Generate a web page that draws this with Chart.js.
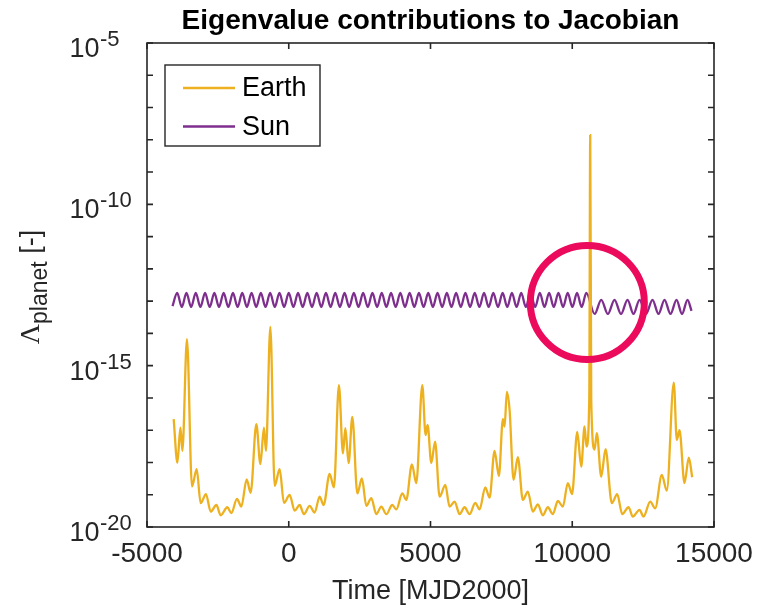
<!DOCTYPE html>
<html>
<head>
<meta charset="utf-8">
<title>Eigenvalue contributions to Jacobian</title>
<script src="https://cdn.jsdelivr.net/npm/chart.js@4.4.1/dist/chart.umd.min.js"></script>
<style>
  html, body { margin: 0; padding: 0; background: #ffffff; }
  #wrap { width: 764px; height: 609px; }
</style>
</head>
<body>
<div id="wrap"><canvas id="eigChart" width="764" height="609"></canvas></div>
<script>
// ===== DATA =====
const earthDays = [
  -4059, -3928, -3822, -3752, -3590, -3413, -3248, -3107, -2920, -2754,
  -2553, -2401, -2165, -2024, -1827, -1671, -1485, -1344, -1143, -1001,
  -875, -804, -649, -497, -321, -169, 32, 208, 384, 536,
  737, 913, 1089, 1230, 1442, 1594, 1770, 1911, 1996, 2112,
  2242, 2419, 2581, 2736, 2912, 3089, 3265, 3441, 3653, 3794,
  4005, 4146, 4344, 4499, 4711, 4827, 4897, 5028, 5162, 5321,
  5522, 5673, 5850, 6026, 6202, 6378, 6579, 6731, 6932, 7084,
  7260, 7412, 7553, 7613, 7694, 7789, 7930, 8081, 8258, 8434,
  8610, 8787, 8963, 9139, 9316, 9492, 9668, 9844, 9993, 10176,
  10317, 10433, 10504, 10600, 10634, 10670, 10786, 10867, 11022, 11174,
  11396, 11586, 11763, 11985, 12136, 12373, 12514, 12750, 12926, 13159,
  13335, 13582, 13688, 13783, 13959, 14111, 14231
];
const earthLambda = [
  2.2e-17, 9.8e-19, 1.2e-17, 2.3e-18, 6.6e-15, 1.8e-19, 6.2e-19, 5.5e-20, 1.05e-19, 3.0e-20,
  4.8e-20, 2.3e-20, 4.1e-20, 2.7e-20, 7.4e-20, 4.3e-20, 3.0e-19, 1.15e-19, 1.55e-17, 8.9e-19,
  1.2e-17, 2.3e-18, 1.6e-14, 1.9e-19, 6.2e-19, 5.6e-20, 9.8e-20, 3.2e-20, 4.8e-20, 2.5e-20,
  4.5e-20, 2.8e-20, 8.7e-20, 4.8e-20, 4.4e-19, 1.7e-19, 2.5e-16, 1.9e-18, 1.15e-17, 9.5e-19,
  2.6e-17, 1.1e-19, 3.2e-19, 4.5e-20, 7.8e-20, 2.5e-20, 4.3e-20, 2.5e-20, 4.8e-20, 3.5e-20,
  1.1e-19, 6.9e-20, 8.7e-19, 2.3e-19, 2.5e-16, 7.1e-18, 1.45e-17, 9.6e-19, 4.4e-18, 8.7e-20,
  2.0e-19, 4.3e-20, 6.1e-20, 2.5e-20, 4.1e-20, 2.5e-20, 5.6e-20, 3.5e-20, 1.7e-19, 8.1e-20,
  2.3e-18, 3.8e-19, 2.2e-17, 1.3e-17, 1.55e-16, 4.3e-17, 2.9e-19, 1.45e-18, 6.9e-20, 1.25e-19,
  3.0e-20, 5.0e-20, 2.3e-20, 4.1e-20, 2.5e-20, 6.4e-20, 4.3e-20, 2.3e-19, 1.05e-19, 8.9e-18,
  7.4e-19, 1.3e-17, 3.1e-18, 8.7e-17, 1.4e-8, 8.7e-17, 2.5e-18, 8.1e-18, 3.6e-19, 2.6e-18,
  5.5e-20, 1.05e-19, 2.5e-20, 4.1e-20, 2.1e-20, 3.4e-20, 2.1e-20, 6.1e-20, 3.8e-20, 4.1e-19,
  1.35e-19, 3.0e-16, 5.0e-18, 1.0e-17, 2.3e-19, 1.4e-18, 3.5e-19
];

const sunDays = [
  -4100, -3936, -3772, -3608, -3444, -3280, -3116, -2952, -2788, -2624,
  -2460, -2296, -2132, -1968, -1804, -1640, -1476, -1312, -1148, -984,
  -820, -656, -492, -328, -164, 0, 164, 328, 492, 656,
  820, 984, 1148, 1312, 1476, 1640, 1804, 1968, 2132, 2296,
  2460, 2624, 2788, 2952, 3116, 3280, 3444, 3608, 3772, 3936,
  4100, 4264, 4428, 4592, 4756, 4920, 5084, 5248, 5412, 5576,
  5740, 5904, 6068, 6232, 6396, 6560, 6724, 6888, 7052, 7216,
  7380, 7544, 7708, 7872, 8036, 8200, 8364, 8528, 8692, 8856,
  9020, 9184, 9348, 9512, 9676, 9840, 10004, 10168, 10332, 10496,
  10790, 11022, 11256, 11491, 11720, 11950, 12160, 12373, 12600, 12831,
  13043, 13255, 13466, 13678, 13872, 14066, 14207
];
const sunLambda = [
  7.0e-14, 1.8e-13, 6.6e-14, 1.8e-13, 6.6e-14, 1.8e-13, 6.6e-14, 1.8e-13, 6.6e-14, 1.8e-13,
  6.6e-14, 1.8e-13, 6.6e-14, 1.8e-13, 6.6e-14, 1.8e-13, 6.6e-14, 1.8e-13, 6.6e-14, 1.8e-13,
  6.6e-14, 1.8e-13, 6.6e-14, 1.8e-13, 6.6e-14, 1.8e-13, 6.6e-14, 1.8e-13, 6.6e-14, 1.8e-13,
  6.6e-14, 1.8e-13, 6.6e-14, 1.8e-13, 6.6e-14, 1.8e-13, 6.6e-14, 1.8e-13, 6.6e-14, 1.8e-13,
  6.6e-14, 1.8e-13, 6.6e-14, 1.8e-13, 6.6e-14, 1.8e-13, 6.6e-14, 1.8e-13, 6.6e-14, 1.8e-13,
  6.6e-14, 1.8e-13, 6.6e-14, 1.8e-13, 6.6e-14, 1.8e-13, 6.6e-14, 1.8e-13, 6.6e-14, 1.8e-13,
  6.6e-14, 1.8e-13, 6.6e-14, 1.8e-13, 6.6e-14, 1.8e-13, 6.6e-14, 1.8e-13, 6.6e-14, 1.8e-13,
  6.6e-14, 1.8e-13, 6.6e-14, 1.8e-13, 6.6e-14, 1.8e-13, 6.6e-14, 1.8e-13, 6.6e-14, 1.8e-13,
  6.6e-14, 1.8e-13, 6.6e-14, 1.8e-13, 6.6e-14, 1.8e-13, 6.6e-14, 1.8e-13, 6.6e-14, 1.8e-13,
  4.0e-14, 1.1e-13, 4.0e-14, 1.1e-13, 4.0e-14, 1.1e-13, 4.0e-14, 1.1e-13, 4.0e-14, 1.1e-13,
  4.0e-14, 1.1e-13, 4.0e-14, 1.1e-13, 4.0e-14, 1.1e-13, 5.0e-14
];

const seriesNames = ['Earth', 'Sun'];
const xTickValues = [-5000, 0, 5000, 10000, 15000];
const yTickExponents = [-20, -15, -10, -5];
const chartTitle = 'Eigenvalue contributions to Jacobian';
const xAxisTitle = 'Time [MJD2000]';

// the circled jump (day, lambda)
const highlightDay = 10532;
const highlightLambda = 9.1e-14;

// ===== STYLE =====
const EARTH_COLOR = '#EDB120';
const SUN_COLOR = '#7E2F8E';
const RING_COLOR = '#ec0a5c';
const AXIS_COLOR = '#262626';
const FONT = '"Liberation Sans", Arial, Helvetica, sans-serif';

function toPoints(days, vals) {
  return days.map((d, i) => ({ x: d, y: vals[i] }));
}

// MATLAB-like frame, inward ticks, labels, legend and the red ring
const matlabChrome = {
  id: 'matlabChrome',
  afterDatasetsDraw(chart) {
    const { ctx, chartArea: a, scales: { x, y } } = chart;
    ctx.save();

    // highlight ring
    ctx.beginPath();
    ctx.arc(x.getPixelForValue(highlightDay), y.getPixelForValue(highlightLambda), 57, 0, Math.PI * 2);
    ctx.strokeStyle = RING_COLOR;
    ctx.lineWidth = 7;
    ctx.stroke();

    // box
    ctx.strokeStyle = AXIS_COLOR;
    ctx.lineWidth = 1.6;
    ctx.strokeRect(a.left, a.top, a.right - a.left, a.bottom - a.top);

    // inward ticks
    const tl = 6;
    ctx.beginPath();
    xTickValues.forEach(v => {
      const px = x.getPixelForValue(v);
      ctx.moveTo(px, a.bottom); ctx.lineTo(px, a.bottom - tl);
      ctx.moveTo(px, a.top); ctx.lineTo(px, a.top + tl);
    });
    for (let e = -20; e <= -5; e++) {
      const py = y.getPixelForValue(Math.pow(10, e));
      ctx.moveTo(a.left, py); ctx.lineTo(a.left + tl, py);
      ctx.moveTo(a.right, py); ctx.lineTo(a.right - tl, py);
    }
    ctx.stroke();
    ctx.restore();
  },
  afterDraw(chart) {
    const { ctx, chartArea: a, scales: { y } } = chart;
    ctx.save();

    // title
    ctx.fillStyle = '#000';
    ctx.font = 'bold 28px ' + FONT;
    ctx.textAlign = 'center';
    ctx.textBaseline = 'alphabetic';
    ctx.fillText(chartTitle, (a.left + a.right) / 2, 29);

    // y tick labels 10^e
    ctx.fillStyle = AXIS_COLOR;
    ctx.textAlign = 'left';
    yTickExponents.forEach(e => {
      const py = y.getPixelForValue(Math.pow(10, e));
      ctx.font = '27px ' + FONT;
      ctx.fillText('10', 69.5, py + 14);
      const w = ctx.measureText('10').width;
      ctx.font = '22px ' + FONT;
      ctx.fillText(String(e), 69.5 + w + 0.5, py + 3);
    });

    // y axis title: Lambda_planet [-]
    const mainFont = '28px "Liberation Serif", "Times New Roman", serif';
    const subFont = '23px ' + FONT;
    const unitFont = '27px ' + FONT;
    ctx.font = mainFont; const wL = ctx.measureText('\u039B').width;
    ctx.font = subFont; const wS = ctx.measureText('planet').width;
    ctx.font = unitFont; const wSp = ctx.measureText(' ').width; const wU = ctx.measureText('[-]').width;
    const total = wL + wS + wSp + wU;
    const cy = (a.top + a.bottom) / 2 + 2;
    ctx.translate(38.5, cy + total / 2);
    ctx.rotate(-Math.PI / 2);
    ctx.font = mainFont; ctx.fillText('\u039B', 0, 0);
    ctx.font = subFont; ctx.fillText('planet', wL, 8);
    ctx.font = unitFont; ctx.fillText('[-]', wL + wS + wSp, 0);
    ctx.setTransform(1, 0, 0, 1, 0, 0);

    // legend
    const lx = 165, ly = 65, lw = 155, lh = 81;
    ctx.fillStyle = '#fff';
    ctx.fillRect(lx, ly, lw, lh);
    ctx.strokeStyle = AXIS_COLOR;
    ctx.lineWidth = 1.4;
    ctx.strokeRect(lx, ly, lw, lh);
    ctx.font = '27px ' + FONT;
    ctx.textBaseline = 'middle';
    chart.data.datasets.forEach((ds, i) => {
      const ry = ly + 23 + i * 38.5;
      ctx.strokeStyle = ds.borderColor;
      ctx.lineWidth = 2.3;
      ctx.beginPath(); ctx.moveTo(lx + 18, ry); ctx.lineTo(lx + 70, ry); ctx.stroke();
      ctx.fillStyle = '#000';
      ctx.fillText(ds.label, lx + 77, ry + 1);
    });
    ctx.restore();
  }
};

new Chart(document.getElementById('eigChart').getContext('2d'), {
  type: 'line',
  data: {
    datasets: [
      {
        label: seriesNames[0],
        data: toPoints(earthDays, earthLambda),
        borderColor: EARTH_COLOR,
        borderWidth: 2.3,
        pointRadius: 0,
        cubicInterpolationMode: 'monotone',
        fill: false
      },
      {
        label: seriesNames[1],
        data: toPoints(sunDays, sunLambda),
        borderColor: SUN_COLOR,
        borderWidth: 2.3,
        pointRadius: 0,
        cubicInterpolationMode: 'monotone',
        fill: false
      }
    ]
  },
  options: {
    responsive: false,
    animation: false,
    devicePixelRatio: 1,
    layout: { padding: { top: 43, right: 50, left: 0, bottom: 0 } },
    plugins: {
      legend: { display: false },
      title: { display: false },
      tooltip: { enabled: false }
    },
    scales: {
      x: {
        type: 'linear',
        min: -5000,
        max: 15000,
        grid: { display: false, drawTicks: false },
        border: { display: false },
        afterBuildTicks: s => { s.ticks = xTickValues.map(v => ({ value: v })); },
        ticks: {
          autoSkip: false,
          maxRotation: 0,
          padding: 10,
          color: AXIS_COLOR,
          font: { family: FONT, size: 28 },
          callback: v => String(v)
        },
        title: {
          display: true,
          text: xAxisTitle,
          color: AXIS_COLOR,
          font: { family: FONT, size: 27 },
          padding: { top: 0, bottom: 1 }
        },
        afterFit: s => { s.height = 82; }
      },
      y: {
        type: 'logarithmic',
        min: 1e-20,
        max: 1e-5,
        grid: { display: false, drawTicks: false },
        border: { display: false },
        ticks: { display: false },
        afterFit: s => { s.width = 147; }
      }
    }
  },
  plugins: [matlabChrome]
});
</script>
</body>
</html>
